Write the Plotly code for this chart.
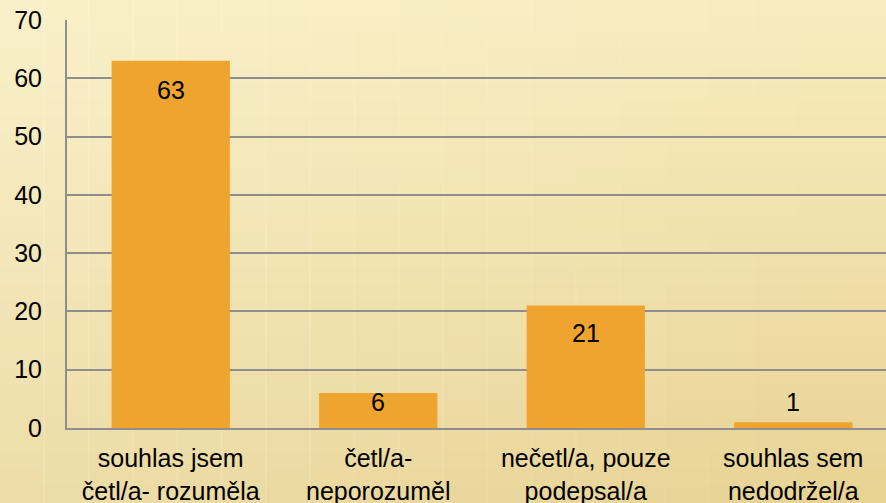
import plotly.graph_objects as go

categories = [
    "souhlas jsem<br>četl/a- rozuměla",
    "četl/a-<br>neporozuměl",
    "nečetl/a, pouze<br>podepsal/a",
    "souhlas sem<br>nedodržel/a",
]
values = [63, 6, 21, 1]
label_shift = [-29, -9, -27, 20]

_BAR = "#EFA430"
_GRID = "#8E8E8E"
_FONT = dict(family="Liberation Sans, Arial, sans-serif", size=25, color="black")

W, H = 886, 503
M = dict(l=67, r=0, t=20, b=75)

fig = go.Figure()

fig.add_trace(go.Bar(
    x=list(range(len(categories))),
    y=values,
    width=0.57,
    marker=dict(color=_BAR, line=dict(width=0)),
    hoverinfo="skip",
))

for i, (v, s) in enumerate(zip(values, label_shift)):
    fig.add_annotation(x=i, y=v, text=str(v), showarrow=False,
                       yshift=s, font=_FONT)

# background gradient (light cream at top-left to tan at bottom)
pw = W - M["l"] - M["r"]
ph = H - M["t"] - M["b"]
x0, x1 = -M["l"] / pw, 1 + M["r"] / pw
y0, y1 = -M["b"] / ph, 1 + M["t"] / ph
top, bot = (248, 236, 190), (232, 211, 148)
n = 30
for k in range(n):
    f = k / (n - 1)
    c = tuple(round(top[j] + (bot[j] - top[j]) * f) for j in range(3))
    ya = y1 - (y1 - y0) * k / n
    yb = y1 - (y1 - y0) * (k + 1) / n
    fig.add_shape(type="rect", xref="paper", yref="paper",
                  x0=x0, x1=x1, y0=yb - 0.002, y1=ya + 0.002,
                  fillcolor="rgb(%d,%d,%d)" % c, line=dict(width=0),
                  layer="below")
# lighter on the left, slightly darker/yellower on the right
m = 20
for k in range(m):
    f = k / (m - 1)
    a = 0.22 * (1 - f)
    xa = x0 + (x1 - x0) * k / m
    xb = x0 + (x1 - x0) * (k + 1) / m
    fig.add_shape(type="rect", xref="paper", yref="paper",
                  x0=xa - 0.001, x1=xb + 0.001, y0=y0, y1=y1,
                  fillcolor="rgba(255,255,240,%.3f)" % a, line=dict(width=0),
                  layer="below")

fig.update_layout(
    width=W, height=H,
    margin=M,
    paper_bgcolor="rgb(242,226,172)",
    plot_bgcolor="rgba(0,0,0,0)",
    font=_FONT,
    showlegend=False,
    xaxis=dict(
        range=[-0.5, 3.447],
        tickmode="array",
        tickvals=list(range(len(categories))),
        ticktext=categories,
        showgrid=False,
        showline=True, linecolor=_GRID, linewidth=2,
        ticks="", ticklabelstandoff=7,
        zeroline=False, automargin=False,
    ),
    yaxis=dict(
        range=[0, 70],
        dtick=10,
        showgrid=True, gridcolor=_GRID, gridwidth=2,
        showline=True, linecolor=_GRID, linewidth=2,
        ticks="", ticklabelstandoff=18,
        zeroline=False, automargin=False,
    ),
)

# drop the default 8px body margin so the figure fills the window exactly
fig.write_html(
    "out.html",
    config={"displayModeBar": False},
    post_script="document.body.style.margin='0';",
)
